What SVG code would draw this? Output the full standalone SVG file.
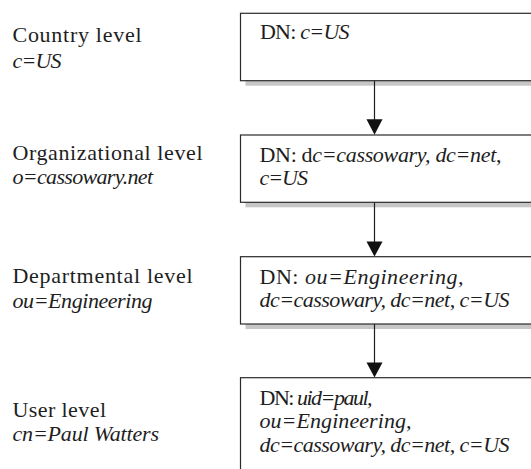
<svg xmlns="http://www.w3.org/2000/svg" width="531" height="469" viewBox="0 0 531 469">
  <style>
    .t { font-family: "Liberation Serif", "Times New Roman", Times, Tinos, "Noto Serif", "DejaVu Serif", FreeSerif, Georgia, serif; font-size: 22px; fill: #1e1e1e; }
    .it { font-style: italic; }
    .box { fill: #ffffff; stroke: #2a2a2a; stroke-width: 1.2; }
    .shadow { fill: #c6c6c6; stroke: none; }
    .conn { stroke: #1e1e1e; stroke-width: 1.2; fill: none; }
    .head { fill: #111111; stroke: none; }
  </style>
  <rect x="0" y="0" width="531" height="469" fill="#ffffff"/>

  <!-- level labels -->
  <g id="label-country" class="t">
    <text x="12.5" y="42.3" textLength="129" lengthAdjust="spacing">Country level</text>
    <text x="12.5" y="68.3" class="it" textLength="49" lengthAdjust="spacing">c=US</text>
  </g>
  <g id="label-organizational" class="t">
    <text x="12.5" y="159.5" textLength="190" lengthAdjust="spacing">Organizational level</text>
    <text x="12.5" y="184.3" class="it" textLength="140.5" lengthAdjust="spacing">o=cassowary.net</text>
  </g>
  <g id="label-departmental" class="t">
    <text x="12.5" y="283.3" textLength="180" lengthAdjust="spacing">Departmental level</text>
    <text x="12.5" y="308.3" class="it" textLength="140" lengthAdjust="spacing">ou=Engineering</text>
  </g>
  <g id="label-user" class="t">
    <text x="12.5" y="416.7" textLength="93.5" lengthAdjust="spacing">User level</text>
    <text x="12.5" y="441.2" class="it" textLength="146.5" lengthAdjust="spacing">cn=Paul Watters</text>
  </g>

  <!-- nodes -->
  <g id="node-country" class="t">
    <rect class="shadow" x="245.5" y="80.7" width="300" height="5"/>
    <rect class="box" x="240.5" y="13.3" width="310" height="67.4"/>
    <text x="260" y="38.5" textLength="89.5" lengthAdjust="spacing">DN: <tspan class="it">c=US</tspan></text>
  </g>
  <g id="node-organizational" class="t">
    <rect class="shadow" x="245.5" y="202.3" width="300" height="5"/>
    <rect class="box" x="240.5" y="135" width="310" height="67.3"/>
    <text x="259.5" y="162" textLength="242" lengthAdjust="spacing">DN: d<tspan class="it">c=cassowary, dc=net</tspan>,</text>
    <text x="259.5" y="185.3" class="it" textLength="48.5" lengthAdjust="spacing">c=US</text>
  </g>
  <g id="node-departmental" class="t">
    <rect class="shadow" x="245.5" y="324" width="300" height="5"/>
    <rect class="box" x="240.5" y="256.7" width="310" height="67.3"/>
    <text x="259.5" y="283.5" textLength="204" lengthAdjust="spacing">DN: <tspan class="it">ou=Engineering,</tspan></text>
    <text x="259.5" y="307" class="it" textLength="250" lengthAdjust="spacing">dc=cassowary, dc=net, c=US</text>
  </g>
  <g id="node-user" class="t">
    <rect class="box" x="240.5" y="377.7" width="310" height="110"/>
    <text x="259.5" y="404.5" textLength="113" lengthAdjust="spacing">DN: <tspan class="it">uid=paul,</tspan></text>
    <text x="259.5" y="428" class="it" textLength="152" lengthAdjust="spacing">ou=Engineering,</text>
    <text x="259.5" y="451.5" class="it" textLength="250" lengthAdjust="spacing">dc=cassowary, dc=net, c=US</text>
  </g>

  <!-- connectors -->
  <g id="connectors">
    <line class="conn" x1="374.5" y1="80.7" x2="374.5" y2="120"/>
    <polygon class="head" points="366.5,119.3 382.5,119.3 374.5,134.8"/>
    <line class="conn" x1="374.5" y1="202.3" x2="374.5" y2="242"/>
    <polygon class="head" points="366.5,241.5 382.5,241.5 374.5,256.5"/>
    <line class="conn" x1="374.5" y1="324" x2="374.5" y2="363"/>
    <polygon class="head" points="366.5,362.5 382.5,362.5 374.5,377.5"/>
  </g>
</svg>
